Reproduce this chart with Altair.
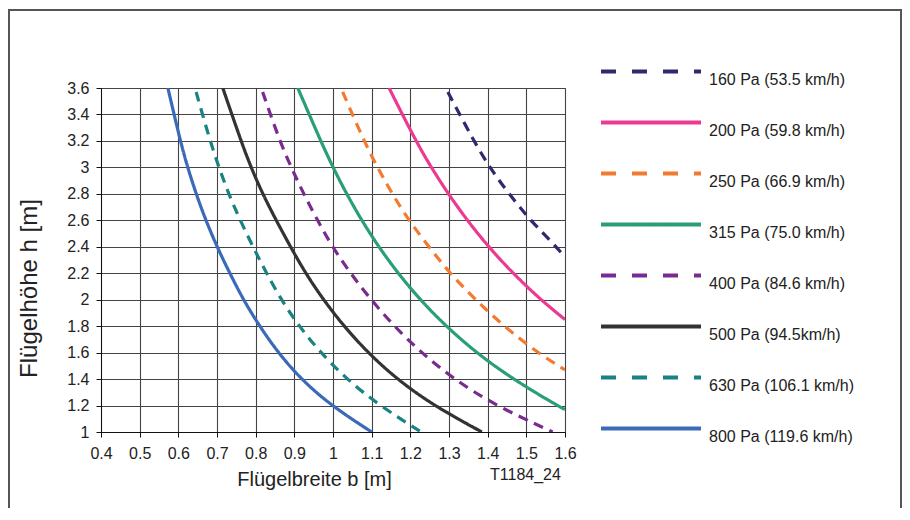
import altair as alt
import pandas as pd

# ---- series labels, colours, dash flags ----
labels = ["160 Pa (53.5 km/h)", "200 Pa (59.8 km/h)", "250 Pa (66.9 km/h)",
          "315 Pa (75.0 km/h)", "400 Pa (84.6 km/h)", "500 Pa (94.5km/h)",
          "630 Pa (106.1 km/h)", "800 Pa (119.6 km/h)"]
colors = ["#2d2a6f", "#ec3a93", "#f37a2f", "#2a9e76", "#7a2b8f", "#333333",
          "#1a8282", "#3a6ab8"]
dashed = [True, False, True, False, True, False, True, False]

# ---- values (b = width [m], h = height [m]) ----
b_160 = [1.297, 1.364, 1.405, 1.455, 1.510, 1.578, 1.600]
h_160 = [3.57, 3.2, 3.0, 2.8, 2.6, 2.4, 2.32]

b_200 = [1.145, 1.214, 1.254, 1.298, 1.347, 1.402, 1.465, 1.537, 1.600]
h_200 = [3.6, 3.2, 3.0, 2.8, 2.6, 2.4, 2.2, 2.0, 1.85]

b_250 = [1.025, 1.080, 1.115, 1.153, 1.196, 1.248, 1.302, 1.368, 1.442, 1.528, 1.600]
h_250 = [3.57, 3.2, 3.0, 2.8, 2.6, 2.4, 2.2, 2.0, 1.8, 1.6, 1.47]

b_315 = [0.909, 0.968, 1.000, 1.035, 1.074, 1.118, 1.168, 1.225, 1.292, 1.370, 1.465, 1.580, 1.600]
h_315 = [3.6, 3.2, 3.0, 2.8, 2.6, 2.4, 2.2, 2.0, 1.8, 1.6, 1.4, 1.2, 1.17]

b_400 = [0.818, 0.862, 0.892, 0.924, 0.960, 0.998, 1.045, 1.098, 1.158, 1.228, 1.312, 1.420, 1.568]
h_400 = [3.57, 3.2, 3.0, 2.8, 2.6, 2.4, 2.2, 2.0, 1.8, 1.6, 1.4, 1.2, 1.0]

b_500 = [0.715, 0.762, 0.788, 0.818, 0.853, 0.890, 0.929, 0.975, 1.028, 1.090, 1.165, 1.260, 1.385]
h_500 = [3.6, 3.2, 3.0, 2.8, 2.6, 2.4, 2.2, 2.0, 1.8, 1.6, 1.4, 1.2, 1.0]

b_630 = [0.646, 0.682, 0.705, 0.730, 0.760, 0.793, 0.828, 0.866, 0.912, 0.968, 1.035, 1.120, 1.228]
h_630 = [3.57, 3.2, 3.0, 2.8, 2.6, 2.4, 2.2, 2.0, 1.8, 1.6, 1.4, 1.2, 1.0]

b_800 = [0.573, 0.605, 0.624, 0.646, 0.671, 0.700, 0.733, 0.768, 0.810, 0.858, 0.917, 0.995, 1.100]
h_800 = [3.6, 3.2, 3.0, 2.8, 2.6, 2.4, 2.2, 2.0, 1.8, 1.6, 1.4, 1.2, 1.0]

series_b = [b_160, b_200, b_250, b_315, b_400, b_500, b_630, b_800]
series_h = [h_160, h_200, h_250, h_315, h_400, h_500, h_630, h_800]

x_ticks = [0.4, 0.5, 0.6, 0.7, 0.8, 0.9, 1.0, 1.1, 1.2, 1.3, 1.4, 1.5, 1.6]
y_ticks = [1.0, 1.2, 1.4, 1.6, 1.8, 2.0, 2.2, 2.4, 2.6, 2.8, 3.0, 3.2, 3.4, 3.6]

rows = []
for lab, bs, hs in zip(labels, series_b, series_h):
    for b, h in zip(bs, hs):
        rows.append({"series": lab, "b": b, "h": h})
df = pd.DataFrame(rows)

plot_dash = [[10, 7] if d else [1, 0] for d in dashed]
legend_dash = [[15, 16] if d else [1, 0] for d in dashed]

FONT = "Liberation Sans"

lines = alt.Chart(df).mark_line(strokeWidth=3.2, clip=True, interpolate="basis").encode(
    x=alt.X("b:Q",
            scale=alt.Scale(domain=[0.4, 1.6], nice=False, zero=False),
            axis=alt.Axis(values=x_ticks, format="~g", title="Flügelbreite b [m]",
                          labelFontSize=16, labelPadding=8, labelFlush=False,
                          titleFontSize=20, titleX=213, titleY=53,
                          titleBaseline="alphabetic", titleAlign="center")),
    y=alt.Y("h:Q",
            scale=alt.Scale(domain=[1.0, 3.6], nice=False, zero=False),
            axis=alt.Axis(values=y_ticks, format="~g", title="Flügelhöhe h [m]",
                          labelFontSize=16, labelPadding=7, labelFlush=False,
                          titleFontSize=24, titleX=-65, titleY=200, titleAngle=270,
                          titleBaseline="alphabetic", titleAlign="center")),
    color=alt.Color("series:N", scale=alt.Scale(domain=labels, range=colors), legend=None),
    strokeDash=alt.StrokeDash("series:N", scale=alt.Scale(domain=labels, range=plot_dash), legend=None),
)

leg_def = dict(title=None, orient="none", legendX=515, legendY=-51.5,
               symbolType="M-1.515,0H1.515", symbolSize=4356, symbolStrokeWidth=4,
               labelFont=FONT, labelFontSize=16, labelColor="#222222",
               labelOffset=23, rowPadding=0, labelBaseline="top", labelLimit=400)

legend_layer = alt.Chart(pd.DataFrame({"series": labels})).mark_line(strokeWidth=4, clip=True).encode(
    x=alt.value(0), y=alt.value(-1000),
    color=alt.Color("series:N", scale=alt.Scale(domain=labels, range=colors),
                    legend=alt.Legend(**leg_def)),
    strokeDash=alt.StrokeDash("series:N", scale=alt.Scale(domain=labels, range=legend_dash),
                              legend=alt.Legend(**leg_def)),
)

frame = alt.Chart(pd.DataFrame({"frame": [1]})).mark_rect(
    filled=False, color="#555555", strokeWidth=2).encode(
    x=alt.value(-92), x2=alt.value(800), y=alt.value(-78), y2=alt.value(445))

note = alt.Chart(pd.DataFrame({"note": ["T1184_24"]})).mark_text(
    align="left", baseline="alphabetic", font=FONT, fontSize=16, color="#222222").encode(
    x=alt.value(389), y=alt.value(392), text="note:N")

chart = alt.layer(frame, lines, legend_layer, note).resolve_scale(
    color="independent", strokeDash="independent"
).properties(
    width=464, height=344,
    autosize=alt.AutoSizeParams(type="none"),
    padding={"left": 93, "top": 80, "right": 337, "bottom": 76},
).configure(
    font=FONT
).configure_view(
    stroke="#444444", strokeWidth=1
).configure_axis(
    labelFont=FONT, titleFont=FONT, labelColor="#222222", titleColor="#222222",
    titleFontWeight="normal", domainColor="#111111", domainWidth=1,
    tickColor="#111111", tickSize=5, tickWidth=1,
    gridColor="#444444", gridWidth=1.1, gridOpacity=1,
)

chart.save("out.html", embed_options={"renderer": "svg", "actions": False})
